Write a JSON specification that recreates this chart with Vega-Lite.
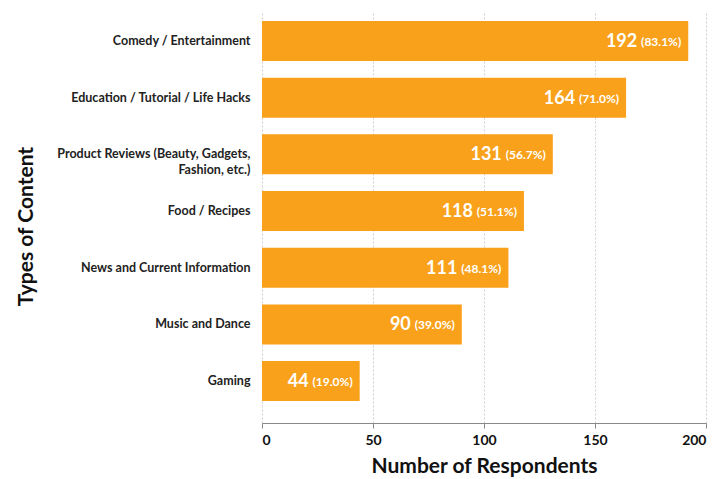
{
  "$schema": "https://vega.github.io/schema/vega-lite/v6.json",
  "width": 444,
  "height": 411,
  "autosize": "none",
  "padding": {"left": 262, "top": 12, "right": 14, "bottom": 56},
  "background": "white",
  "config": {"view": {"stroke": null}, "font": "Lato"},
  "data": {
    "values": [
      {"type": "Comedy / Entertainment", "count": 192, "pct": "(83.1%)"},
      {"type": "Education / Tutorial / Life Hacks", "count": 164, "pct": "(71.0%)"},
      {"type": "Product Reviews (Beauty, Gadgets, Fashion, etc.)", "count": 131, "pct": "(56.7%)"},
      {"type": "Food / Recipes", "count": 118, "pct": "(51.1%)"},
      {"type": "News and Current Information", "count": 111, "pct": "(48.1%)"},
      {"type": "Music and Dance", "count": 90, "pct": "(39.0%)"},
      {"type": "Gaming", "count": 44, "pct": "(19.0%)"}
    ]
  },
  "encoding": {
    "y": {
      "field": "type",
      "type": "nominal",
      "sort": null,
      "scale": {"paddingInner": 0.294, "paddingOuter": 0.272, "align": 0.29},
      "axis": {
        "title": "Types of Content",
        "titleFontSize": 21,
        "titleFontWeight": "bold",
        "titleColor": "#111",
        "titleX": -230,
        "titleY": 214,
        "titleBaseline": "alphabetic",
        "titleAngle": -90,
        "titleAlign": "center",
        "labelFontSize": 12.5,
        "labelFontWeight": "bold",
        "labelColor": "#222",
        "labelPadding": 12,
        "labelLimit": 260,
        "labelLineHeight": 16,
        "labelExpr": "datum.value == 'Product Reviews (Beauty, Gadgets, Fashion, etc.)' ? ['Product Reviews (Beauty, Gadgets,', 'Fashion, etc.)'] : datum.value",
        "ticks": false,
        "domain": false
      }
    },
    "x": {
      "field": "count",
      "type": "quantitative",
      "scale": {"domain": [0, 200], "nice": false},
      "axis": {
        "values": [0, 50, 100, 150, 200],
        "title": "Number of Respondents",
        "titleFontSize": 21,
        "titleFontWeight": "bold",
        "titleColor": "#111",
        "titleBaseline": "alphabetic",
        "titleY": 49,
        "labelFontSize": 14,
        "labelFontWeight": "bold",
        "labelColor": "#111",
        "labelPadding": 5,
        "grid": true,
        "gridColor": "#cfcfcf",
        "gridDash": [2, 2],
        "domainColor": "#888",
        "tickColor": "#888",
        "tickSize": 5
      }
    }
  },
  "layer": [
    {"mark": {"type": "bar", "color": "#F9A11B"}},
    {
      "mark": {"type": "text", "align": "right", "baseline": "alphabetic", "dx": -7, "dy": 5, "fontSize": 12, "fontWeight": "bold", "color": "white"},
      "encoding": {"text": {"field": "pct"}}
    },
    {
      "mark": {"type": "text", "align": "right", "baseline": "alphabetic", "dx": -51, "dy": 6, "fontSize": 18, "fontWeight": "bold", "color": "white"},
      "encoding": {"text": {"field": "count"}}
    }
  ]
}
